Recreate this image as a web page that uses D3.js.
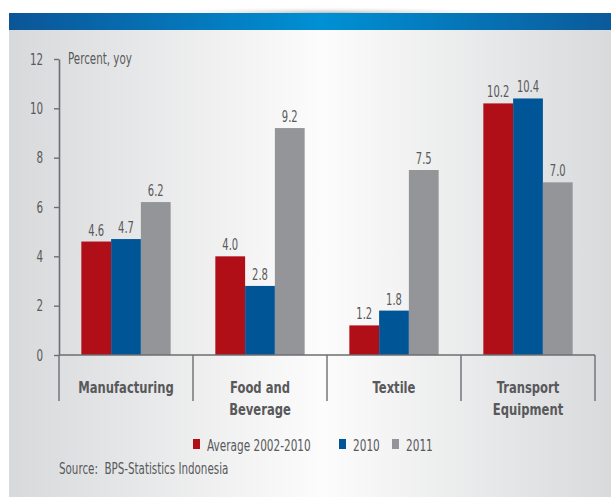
<!DOCTYPE html>
<html>
<head>
<meta charset="utf-8">
<script src="https://cdn.jsdelivr.net/npm/d3@7"></script>
<style>
  html, body { margin: 0; padding: 0; background: #ffffff; }
  svg { display: block; }
  text { font-family: "Liberation Sans Narrow", "DejaVu Sans Condensed", "Roboto", sans-serif; fill: #58595b; }
</style>
</head>
<body>
<svg id="chart" width="611" height="497"></svg>
<script>
// Industry growth, percent year on year
const categories = [["Manufacturing"], ["Food and", "Beverage"], ["Textile"], ["Transport", "Equipment"]];
const seriesNames = ["Average 2002-2010", "2010", "2011"];
const avg2002_2010 = [4.6, 4.0, 1.2, 10.2];
const y2010 = [4.7, 2.8, 1.8, 10.4];
const y2011 = [6.2, 9.2, 7.5, 7.0];
const yTicks = [0, 2, 4, 6, 8, 10, 12];
const colors = ["#b10f17", "#005596", "#939598"];

const seriesValues = [avg2002_2010, y2010, y2011];
const catKeys = categories.map(c => c.join(" "));

const svg = d3.select("#chart");
const W = 611, H = 497;

// Place a text at (x, y), narrowed horizontally by sx for a condensed look
function label(parent, x, y, str, size, sx) {
  return parent.append("text")
    .attr("transform", `translate(${x},${y}) scale(${sx},1)`)
    .attr("font-size", size)
    .text(str);
}

// Background panel and header band
const defs = svg.append("defs");
const bg = defs.append("linearGradient").attr("id", "bg").attr("x1", "0").attr("x2", "1").attr("y1", "0").attr("y2", "0");
bg.append("stop").attr("offset", "0").attr("stop-color", "#d8d9db");
bg.append("stop").attr("offset", "0.52").attr("stop-color", "#fcfcfc");
bg.append("stop").attr("offset", "1").attr("stop-color", "#d9dadc");
const band = defs.append("linearGradient").attr("id", "band").attr("x1", "0").attr("x2", "1").attr("y1", "0").attr("y2", "0");
band.append("stop").attr("offset", "0").attr("stop-color", "#0b5597");
band.append("stop").attr("offset", "0.52").attr("stop-color", "#0090d4");
band.append("stop").attr("offset", "1").attr("stop-color", "#0b5a9a");
const shadow = defs.append("radialGradient").attr("id", "shadow").attr("cx", "0.5").attr("cy", "1").attr("r", "0.5");
shadow.append("stop").attr("offset", "0").attr("stop-color", "#a8a9ab").attr("stop-opacity", 0.8);
shadow.append("stop").attr("offset", "1").attr("stop-color", "#ffffff").attr("stop-opacity", 0);

svg.append("rect").attr("x", 0).attr("y", 0).attr("width", W).attr("height", H).attr("fill", "#ffffff");
svg.append("rect").attr("x", 120).attr("y", 0).attr("width", 420).attr("height", 13).attr("fill", "url(#shadow)");
svg.append("rect").attr("x", 9).attr("y", 30).attr("width", W - 9).attr("height", H - 30).attr("fill", "url(#bg)");
svg.append("rect").attr("x", 9).attr("y", 13).attr("width", W - 9).attr("height", 17).attr("fill", "url(#band)");

// Scales
const x0 = d3.scaleBand().domain(catKeys).range([59, 595]).paddingInner(0).paddingOuter(0);
const x1 = d3.scaleBand().domain(seriesNames).range([0, x0.bandwidth()]).paddingInner(0).paddingOuter(0.75);
const y = d3.scaleLinear().domain([0, 12]).range([355, 59]);

// Y axis
const tickSX = 0.72;
const yAxis = d3.axisLeft(y).tickValues(yTicks).tickFormat(d3.format("d")).tickSize(5).tickSizeOuter(0).tickPadding(17);
const gy = svg.append("g").attr("transform", "translate(59,0)").call(yAxis);
gy.select(".domain").attr("stroke", "#6d6e71").attr("stroke-width", 1.6);
gy.selectAll(".tick line").attr("stroke", "#6d6e71").attr("stroke-width", 1.4);
gy.selectAll(".tick text").attr("font-size", 16).attr("fill", "#58595b")
  .attr("transform", `scale(${tickSX},1)`)
  .style("font-family", "'Liberation Sans Narrow', 'DejaVu Sans Condensed', sans-serif");

label(svg, 68, 64, "Percent, yoy", 15, 0.765);

// Bars
const groups = svg.append("g").selectAll("g").data(catKeys).join("g")
  .attr("transform", d => `translate(${x0(d)},0)`);
groups.each(function(cat, ci) {
  const g = d3.select(this);
  seriesNames.forEach((s, si) => {
    const v = seriesValues[si][ci];
    g.append("rect")
      .attr("x", x1(s)).attr("y", y(v))
      .attr("width", x1.bandwidth()).attr("height", y(0) - y(v))
      .attr("fill", colors[si]);
    label(g, x1(s) + x1.bandwidth() / 2, y(v) - 6, v.toFixed(1), 15, 0.74)
      .attr("text-anchor", "middle");
  });
});

// Category axis: baseline and dividers
const axisG = svg.append("g");
axisG.append("line").attr("x1", 59).attr("x2", 595).attr("y1", y(0)).attr("y2", y(0))
  .attr("stroke", "#6d6e71").attr("stroke-width", 1.6);
const bounds = catKeys.map(c => x0(c)).concat([x0.range()[1]]);
axisG.selectAll("line.div").data(bounds).join("line").attr("class", "div")
  .attr("x1", d => d).attr("x2", d => d).attr("y1", y(0)).attr("y2", 401)
  .attr("stroke", "#6d6e71").attr("stroke-width", 1.4);

const labelG = svg.append("g");
categories.forEach((lines, i) => {
  const t = label(labelG, x0(catKeys[i]) + x0.bandwidth() / 2, 393, null, 16.5, 0.78)
    .attr("text-anchor", "middle").attr("font-weight", "bold");
  t.selectAll("tspan").data(lines).join("tspan")
    .attr("x", 0)
    .attr("dy", (d, j) => j === 0 ? 0 : 22)
    .text(d => d);
});

// Legend
const legendX = [193, 339, 392];
const legend = svg.append("g").selectAll("g").data(seriesNames).join("g")
  .attr("transform", (d, i) => `translate(${legendX[i]},439)`);
legend.append("rect").attr("width", 7).attr("height", 10).attr("fill", (d, i) => colors[i]);
legend.each(function(d) { label(d3.select(this), 14, 12, d, 15, 0.78); });

// Source note
label(svg, 59, 474, "Source:  BPS-Statistics Indonesia", 15, 0.765).attr("xml:space", "preserve");
</script>
</body>
</html>
